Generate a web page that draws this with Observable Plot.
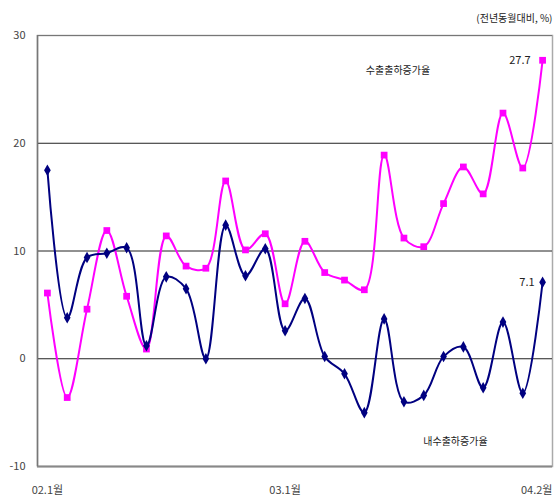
<!DOCTYPE html>
<html>
<head>
<meta charset="utf-8">
<script src="https://cdn.jsdelivr.net/npm/d3@7"></script>
<script src="https://cdn.jsdelivr.net/npm/@observablehq/plot@0.6"></script>
<style>
  html, body { margin: 0; padding: 0; background: #fff; }
  #chart svg { display: block; }
</style>
</head>
<body>
<div id="chart"></div>
<script>
const months = ["02.1","02.2","02.3","02.4","02.5","02.6","02.7","02.8","02.9","02.10","02.11","02.12",
                "03.1","03.2","03.3","03.4","03.5","03.6","03.7","03.8","03.9","03.10","03.11","03.12",
                "04.1","04.2"];
const exportGrowth = [6.1, -3.6, 4.6, 11.9, 5.8, 0.9, 11.4, 8.6, 8.4, 16.5, 10.1, 11.6,
                      5.1, 10.9, 8.0, 7.3, 6.4, 18.9, 11.2, 10.4, 14.4, 17.8, 15.3, 22.8, 17.7, 27.7];
const domesticGrowth = [17.5, 3.8, 9.4, 9.8, 10.3, 1.2, 7.6, 6.5, 0.0, 12.4, 7.7, 10.2,
                        2.6, 5.6, 0.2, -1.4, -5.0, 3.7, -4.0, -3.4, 0.2, 1.1, -2.7, 3.4, -3.2, 7.1];
const yTicks = [-10, 0, 10, 20, 30];
const xLabelIdx = [0, 12, 25];
const xLabels = ["02.1월", "03.1월", "04.2월"];
const exportName = "수출출하증가율";
const domesticName = "내수출하증가율";
const unitNote = "(전년동월대비, %)";

const exp = months.map((m, i) => ({i, m, v: exportGrowth[i]}));
const dom = months.map((m, i) => ({i, m, v: domesticGrowth[i]}));
const last = months.length - 1;
const xLab = xLabelIdx.map((idx, k) => ({idx, label: xLabels[k], end: idx === last}));

const font = "'Noto Sans CJK KR', 'DejaVu Sans', sans-serif";

const chart = Plot.plot({
  width: 555,
  height: 502,
  marginLeft: 37,
  marginRight: 3,
  marginTop: 35,
  marginBottom: 36,
  style: {fontFamily: font, fontSize: "10px", color: "#333", background: "#fff"},
  x: {domain: [-0.5, last + 0.5], axis: null},
  y: {domain: [-10, 30], axis: null},
  marks: [
    Plot.frame({stroke: "#aaa", strokeWidth: 1.5}),
    Plot.ruleY([0, 10, 20], {stroke: "#222", strokeWidth: 1}),
    Plot.ruleY([30], {stroke: "#777", strokeWidth: 1}),
    Plot.ruleY([-10], {stroke: "#888", strokeWidth: 2}),
    Plot.ruleX([-0.5], {stroke: "#777", strokeWidth: 1.5}),
    Plot.text(yTicks, {x: -0.5, y: d => d, text: d => String(d), textAnchor: "end", dx: -12, fontSize: 11, fill: "#444"}),
    Plot.text(xLab.filter(d => !d.end), {x: "idx", y: -10, text: "label", dy: 24, fontSize: 11, fill: "#444"}),
    Plot.text(xLab.filter(d => d.end), {x: last + 0.5, y: -10, text: "label", dy: 24, textAnchor: "end", fontSize: 11, fill: "#444"}),
    Plot.line(exp, {x: "i", y: "v", stroke: "#ff00ff", strokeWidth: 2, curve: "catmull-rom"}),
    Plot.line(dom, {x: "i", y: "v", stroke: "#000080", strokeWidth: 2, curve: "catmull-rom"}),
    Plot.dot(exp, {x: "i", y: "v", symbol: "square", r: 3.8, fill: "#ff00ff", stroke: "none"}),
    Plot.dot(dom, {x: "i", y: "v", symbol: "diamond", r: 3.5, fill: "#000080", stroke: "none"}),
    Plot.text([exp[last]], {x: "i", y: "v", text: d => d.v.toFixed(1), textAnchor: "end", dx: -12, fontSize: 11, fill: "#222"}),
    Plot.text([dom[last]], {x: "i", y: "v", text: d => d.v.toFixed(1), textAnchor: "end", dx: -8, fontSize: 11, fill: "#222"}),
    Plot.text([exportName], {x: 17.7, y: 26.7, text: d => d, fontSize: 10, fill: "#222"}),
    Plot.text([domesticName], {x: 20.6, y: -7.7, text: d => d, fontSize: 10, fill: "#222"}),
    Plot.text([unitNote], {x: last + 0.5, y: 30, text: d => d, textAnchor: "end", dy: -17, fontSize: 10, fill: "#222"})
  ]
});
document.getElementById("chart").appendChild(chart);
</script>
</body>
</html>
